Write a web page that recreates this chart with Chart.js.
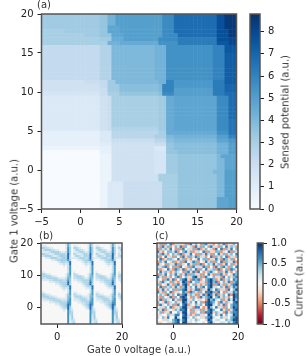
<!DOCTYPE html>
<html>
<head>
<meta charset="utf-8">
<title>Sensed potential and current</title>
<script src="https://cdn.jsdelivr.net/npm/chart.js@4"></script>
<style>
  html, body { margin: 0; padding: 0; background: #fff; }
  body { position: relative; width: 307px; height: 356px; overflow: hidden; font-family: "DejaVu Sans", sans-serif; font-size: 10px; color: #333; }
  canvas { position: absolute; filter: blur(0.4px); }
  .lbl { position: absolute; white-space: nowrap; filter: blur(0.2px); }
</style>
</head>
<body>
<canvas id="chart-a" width="250" height="232" style="left:0;top:0"></canvas>
<canvas id="bar-a" width="62" height="225" style="left:245px;top:0"></canvas>
<canvas id="chart-b" width="134" height="112" style="left:0;top:232px"></canvas>
<canvas id="chart-c" width="105" height="112" style="left:145px;top:232px"></canvas>
<canvas id="bar-c" width="55" height="112" style="left:252px;top:232px"></canvas>
<div class="lbl" style="left:37px;top:-1px">(a)</div>
<div class="lbl" style="left:39px;top:230px">(b)</div>
<div class="lbl" style="left:155px;top:230px">(c)</div>
<div class="lbl" style="left:14px;top:211px;transform:translate(-50%,-50%) rotate(-90deg)">Gate 1 voltage (a.u.)</div>
<div class="lbl" style="left:139px;top:349px;transform:translate(-50%,-50%)">Gate 0 voltage (a.u.)</div>
<div class="lbl" style="left:285px;top:112px;transform:translate(-50%,-50%) rotate(-90deg)">Sensed potential (a.u.)</div>
<div class="lbl" style="left:299px;top:283px;transform:translate(-50%,-50%) rotate(-90deg)">Current (a.u.)</div>
<script>
const potentialTicksX = [-5, 0, 5, 10, 15, 20];
const potentialTicksY = [-5, 0, 5, 10, 15, 20];
const smallTicksX = [0, 20];
const smallTicksY = [0, 10, 20];
const potentialBarTicks = [0, 1, 2, 3, 4, 5, 6, 7, 8];
const currentBarTicks = [-1, -0.5, 0, 0.5, 1];
const currentBarLabels = ["-1.0", "-0.5", "0.0", "0.5", "1.0"];
const potentialMax = 8.8;

// panel (a), top row first, one char per cell, base 36 in quarters of a unit
const potentialRows = [
  "ddddddddddddddd ee hh kkkkkkkkkkkk nnn rrrrrrrrrrr vv yyy",
  "ddddddddddddddd ee hh kkkkkkkkkkkk nnn rrrrrrrrrrr vv yyy",
  "ddddddddddddddd ee hh kkkkkkkkkkkk nnn rrrrrrrrrrr vv yyy",
  "ddddddddddddddd ee jjj kkkkkkkkkkk nnn rrrrrrrrrrr vv yyy",
  "cccccc ddddddddd ee jjj kkkkkkkkkkk nnn rrrrrrrrrrr vvv yy",
  "ccccccccccc dddd eee jjj kkkkkkkkkk nnnn rrrrrrrrrr vvv yy",
  "ccccccccccccccc ddd iii kkkkkkkkk nnnnn pppppppppp vvv ww",
  "ccccccccccccccccc hhh iiiiiiiiii mmmmm pppppppppp uuu ww",
  "999999999999999 bbb ggggggggggg hhh mmmmmmmmmmmm ooo uuu",
  "999999999999999 bbb ggggggggggg hhh mmmmmmmmmmmm ooo uuu",
  "999999999999999 bbb ggggggggggg hhh mmmmmmmmmmmm ooo ttt",
  "999999999999999 bbb ggggggggggg hhh mmmmmmmmmmmm ooo ttt",
  "999999999999999 bbb ggggggggggg hhh mmmmmmmmmmmm ooo ttt",
  "999999999999999 bbb ggggggggggg hhh mmmmmmmmmmmm ooo ttt",
  "999999999999999 bbb ggggggggggg hhh mmmmmmmmmmmm ooo ttt",
  "999999999999999 bbb ggggggggggg hhh mmmmmmmmmmmm ooo ttt",
  "999999999999999 bbb ggggggggggg hhh mmmmmmmmmmmm ooo ttt",
  "77777777777 8888 99 dd ggggggggggg hh oo llllllllll ppp ttt",
  "777777777777777 99 ddd ffffffffff g ooo llllllllll ppp sss",
  "777777777777777 88 ddd ffffffffff g ooo kkkkkkkkkk ppp sss",
  "666666666666666 88 ccc eeeeeeeeee f nnn kkkkkkkkkk ppp rrr",
  "555555555555555 77 8 cccccccccccc dd ii jjjjjjjjjjj nnn rr",
  "555555555555555 77 8 cccccccccccc dd ii jjjjjjjjjjj nnn rr",
  "555555555555555 77 8 cccccccccccc dd ii jjjjjjjjjjj nnn rr",
  "555555555555555 77 8 cccccccccccc dd ii jjjjjjjjjjj nnn rr",
  "555555555555555 77 8 cccccccccccc dd ii jjjjjjjjjjj nnn rr",
  "555555555555555 77 8 cccccccccccc dd ii jjjjjjjjjjj nnn rr",
  "555555555555555 77 8 cccccccccccc dd ii jjjjjjjjjjj nnn qq",
  "555555555555555 77 8 cccccccccccc dd ii jjjjjjjjjjj nnn qq",
  "555555555555555 77 8 bbbbbbbbbbbb dd ii jjjjjjjjjjj nnn qq",
  "333333333333333 555 aaaaaaaaaaaa cc iiiiiiiiiiiii mmm qq",
  "333333333333333 555 aaaaaaaaaaa ccc gg hhhhhhhhhhh kkk oo",
  "333333333333333 555 88888888888 aaa ff ggggggggggg jjj ll",
  "333333333333333 444 77777777777 888 ee fffffffffff hhh kk",
  "222222222222222 333 77777777777 555 ee fffffffffff hhh kk",
  "000000000000000 333 77777777777 666 eee ffffffffff hhh kk",
  "000000000000000 222 77777777777 666 ddd eeeeeeeeee g jjjj",
  "000000000000000 222 77777777777 666 ddd eeeeeeeeee gg jjj",
  "000000000000000 222 77777777777 666 ddd eeeeeeeeee gg jjj",
  "000000000000000 222 77777777777 666 ddd eeeeeeeeee gg jjj",
  "000000000000000 222 77777777777 666 ddd eeeeeeeee ggg kkk",
  "000000000000000 222 777777777777 ccccc eeeeeeeeee gg kkk",
  "000000000000000 222 777777777777 ccccc eeeeeeeeee gg kkk",
  "000000000000000 22 5555 8888888888 cccc eeeeeeeeee gg kkk",
  "000000000000000 22 5555 8888888888 cccc eeeeeeeeee gg kkk",
  "000000000000000 22 5555 8888888888 cccc eeeeeeeeee gg kkk",
  "000000000000000 22 5555 8888888888 cccc eeeeeeeeee gg kkk",
  "000000000000000 22 5555 8888888888 cccc eeeeeeeeee jjj kk",
  "000000000000000 22 5555 8888888888 cccc eeeeeeeeee jjj kk",
  "000000000000000 22 5555 8888888888 cccc eeeeeeeeee jjj kk"
];

// panel (b), top row first, each digit is an index into sparseLevels
const sparseLevels = [0, 0.14, 0.24, 0.32, 0.38, 0.44, 0.5, 0.6, 0.78];
const sparseRows = [
  "000000000000 1620 0000000 1620 0000000 1620 00",
  "111000000000 1620 1100000 1620 1100000 1620 10",
  "332211000000 1730 3321000 1730 3321000 1730 32",
  "123332211000 1730 1332210 1730 1332210 1730 13",
  "111123333211 2730 1123321 2730 1123321 2730 11",
  "332211233333 2830 3211233 2830 3211233 2830 21",
  "123332112343 3820 1332133 3820 1332133 3820 23",
  "001123332234 3821 1123332 3821 1123332 3821 11",
  "000001123343 4730 0011233 4730 0011233 4730 00",
  "000000001233 2380 0000123 2380 0000123 2380 00",
  "000000000112 1280 0000012 1280 0000012 1280 00",
  "000000000001 0270 0000001 0270 0000001 0270 00",
  "000000000000 0270 0000000 0270 0000000 0270 00",
  "000000000000 0270 0000000 0270 0000000 0270 00",
  "110000000000 0270 1000000 0270 1000000 0270 10",
  "332110000000 1470 3210000 1470 3210000 1470 22",
  "233332110000 1560 2333210 1560 2333210 1560 33",
  "222333332111 2650 2233321 2650 2233321 2650 22",
  "111122333332 3740 1122333 3740 1122333 3740 12",
  "000011122333 3840 0011233 3840 0011233 3840 01",
  "000000011233 4830 0000123 4830 0000123 4830 00",
  "000000000123 3380 0000012 3380 0000012 3380 00",
  "000000000012 1280 0000001 1280 0000001 1280 00",
  "000000000001 0270 0000000 0270 0000000 0270 00",
  "110000000000 0270 1100000 0270 1100000 0270 10",
  "332110000000 1470 3211000 1470 3211000 1470 32",
  "233322110000 1560 2333211 1560 2333211 1560 23",
  "122333322111 1570 1223332 1570 1223332 1570 12",
  "011122333322 2670 1112333 2670 1112333 2670 01",
  "000011122333 3770 0011223 3770 0011223 3770 00",
  "000000011233 4870 0000123 4870 0000123 4870 00",
  "000000000123 4840 0000012 4840 0000012 4840 00",
  "000000000012 2831 0000001 2831 0000001 2831 00",
  "000000000001 0732 0000000 0732 0000000 0732 00",
  "000000000000 0733 0000000 0733 0000000 0733 00",
  "000000000000 0723 0000000 0723 0000000 0723 00",
  "000000000000 0714 0000000 0714 0000000 0714 00",
  "000000000000 0713 1000000 0713 1000000 0713 10",
  "000000000000 0712 2000000 0712 2000000 0712 20",
  "000000000000 0702 3000000 0702 3000000 0702 30"
];

// panel (c), top row first, 4 is zero and each step is a little under a quarter unit
const currentRows = [
  "36264725 53362746 42673524 63725364",
  "52736246 37264527 36642753 26473652",
  "26563742 62745362 72364527 47263746",
  "73246657 24673625 54726336 62547263",
  "36752463 67253742 26375264 73625647",
  "62473526 42736657 63524726 36472536",
  "47236654 73625243 74662357 52763624",
  "26574362 36274576 24375626 47265372",
  "73426537 62547362 67246573 62374625",
  "35672462 27436275 53762427 36752647",
  "62347527 63725647 26473562 72462763",
  "47563236 54267372 74236754 26375246",
  "26374657 36572663 52647326 67324576",
  "73625246 72463578 36275463 52746367",
  "54267372 46783276 72467862 37256476",
  "36754263 25872746 63527867 24637267",
  "62437526 73782462 52367826 75263678",
  "47265637 52683647 36747853 46372576",
  "25736462 66783257 72538647 63527468",
  "73264725 34762763 26477862 74263576",
  "46527364 72783652 63728737 25647287",
  "52643726 47874263 27567846 73652487",
  "37265473 62885364 53428675 46237586",
  "64372546 35873647 46278764 27563478",
  "27546362 74782546 36478854 63724677",
  "45364725 36883527 74238647 35264687",
  "63725436 57784263 52637864 47362578",
  "46253744 63884625 46277836 54273677",
  "35446357 74785236 63548746 37464587",
  "54637448 54885463 45367854 46354678",
  "44355467 85784546 54438745 54465688",
  "53445367 84883545 44547854 45546578"
];

const blues = ["#f7fbff", "#deebf7", "#c6dbef", "#9ecae1", "#6baed6", "#4292c6", "#2171b5", "#08519c", "#08306b"];
const rdbu = ["#67001f", "#b2182b", "#d6604d", "#f4a582", "#fddbc7", "#f7f7f7", "#d1e5f0", "#92c5de", "#4393c3", "#2166ac", "#053061"];

const inkColor = "#222";
const frameColor = "#555";
const tickFont = { family: "'DejaVu Sans'", size: 10 };

function hexToRgb(h) {
  return [1, 3, 5].map(i => parseInt(h.slice(i, i + 2), 16));
}

function colorAt(stops, t) {
  const p = Math.min(Math.max(t, 0), 1) * (stops.length - 1);
  const i = Math.min(Math.floor(p), stops.length - 2);
  const a = hexToRgb(stops[i]);
  const b = hexToRgb(stops[i + 1]);
  const c = a.map((v, k) => Math.round(v + (b[k] - v) * (p - i)));
  return `rgb(${c[0]},${c[1]},${c[2]})`;
}

// cells sit at their centres in data units, x and y both run -5 to 20
function rowsToPoints(rows, decode) {
  const n = rows.length;
  const step = 25 / n;
  const pts = [];
  rows.forEach((raw, j) => {
    const row = raw.replace(/ /g, "");
    for (let i = 0; i < n; i++) {
      pts.push({ x: -5 + (i + 0.5) * step, y: 20 - (j + 0.5) * step, v: decode(row[i] || "0") });
    }
  });
  return pts;
}

const frame = {
  id: "frame",
  afterDraw(chart) {
    const a = chart.chartArea;
    const c = chart.ctx;
    c.save();
    c.strokeStyle = frameColor;
    c.lineWidth = 1.5;
    c.strokeRect(a.left, a.top, a.width, a.height);
    c.restore();
  },
};

function axis(position, ticks, size, showLabels) {
  const horizontal = position === "bottom";
  return {
    type: "linear",
    position,
    min: -5,
    max: 20,
    afterBuildTicks: s => { s.ticks = ticks.map(v => ({ value: v })); },
    afterFit: s => { if (horizontal) s.height = size; else s.width = size; },
    border: { display: false },
    grid: { drawOnChartArea: false, tickLength: 4, color: inkColor, tickWidth: 1 },
    ticks: {
      display: showLabels,
      color: inkColor,
      font: tickFont,
      padding: horizontal ? 3 : 4,
      maxRotation: 0,
      autoSkip: false,
      callback: v => String(v).replace("-", "\u2212"),
    },
  };
}

function heatmap(id, rows, decode, colorOf, padding, yWidth, xHeight, ticksX, ticksY, showY) {
  const radius = ctx => (ctx.chart.chartArea ? ctx.chart.chartArea.width / rows.length * 0.8 : 1);
  new Chart(document.getElementById(id), {
    type: "scatter",
    data: {
      datasets: [{
        data: rowsToPoints(rows, decode),
        pointStyle: "rect",
        pointBorderWidth: 0,
        pointRadius: radius,
        pointHoverRadius: radius,
        backgroundColor: ctx => colorOf(ctx.raw ? ctx.raw.v : 0),
      }],
    },
    options: {
      responsive: false,
      animation: false,
      layout: { padding },
      plugins: { legend: { display: false }, tooltip: { enabled: false } },
      scales: {
        x: axis("bottom", ticksX, xHeight, true),
        y: axis("left", ticksY, yWidth, showY),
      },
    },
    plugins: [frame],
  });
}

function colorbar(id, stops, min, max, ticks, name, padding, axisWidth, format) {
  new Chart(document.getElementById(id), {
    type: "bar",
    data: {
      labels: [name],
      datasets: [{
        data: [[min, max]],
        barPercentage: 1,
        categoryPercentage: 1,
        borderSkipped: false,
        backgroundColor: ctx => {
          const a = ctx.chart.chartArea;
          if (!a) return stops[0];
          const g = ctx.chart.ctx.createLinearGradient(0, a.bottom, 0, a.top);
          stops.forEach((s, i) => g.addColorStop(i / (stops.length - 1), s));
          return g;
        },
      }],
    },
    options: {
      responsive: false,
      animation: false,
      layout: { padding },
      plugins: { legend: { display: false }, tooltip: { enabled: false } },
      scales: {
        x: { display: false },
        y: {
          position: "right",
          min,
          max,
          afterBuildTicks: s => { s.ticks = ticks.map(v => ({ value: v })); },
          afterFit: s => { s.width = axisWidth; },
          border: { display: false },
          grid: { drawOnChartArea: false, tickLength: 4, color: inkColor },
          ticks: { color: inkColor, font: tickFont, padding: 4, autoSkip: false, callback: format },
        },
      },
    },
    plugins: [frame],
  });
}

const fromQuarter = ch => parseInt(ch, 36) / 4;
const fromLevel = ch => sparseLevels[Number(ch)];
const fromStep = ch => (Number(ch) - 4) * 0.225;
const bluesColor = v => colorAt(blues, v / potentialMax);
const rdbuColor = v => colorAt(rdbu, (v + 1) / 2);

heatmap("chart-a", potentialRows, fromQuarter, bluesColor,
  { left: 0, top: 14, right: 13.5, bottom: 0 }, 41.5, 23, potentialTicksX, potentialTicksY, true);
heatmap("chart-b", sparseRows, fromLevel, rdbuColor,
  { left: 0, top: 11, right: 12, bottom: 0 }, 41, 20, smallTicksX, smallTicksY, true);
heatmap("chart-c", currentRows, fromStep, rdbuColor,
  { left: 0, top: 11, right: 12, bottom: 0 }, 12, 20, smallTicksX, smallTicksY, false);

colorbar("bar-a", blues, 0, potentialMax, potentialBarTicks, "Sensed potential (a.u.)",
  { left: 5, top: 14, right: 10, bottom: 16 }, 37, v => String(v));
colorbar("bar-c", rdbu, -1, 1, currentBarTicks, "Current (a.u.)",
  { left: 5.3, top: 11, right: 8, bottom: 20 }, 36, v => currentBarLabels[currentBarTicks.indexOf(v)]);
</script>
</body>
</html>
